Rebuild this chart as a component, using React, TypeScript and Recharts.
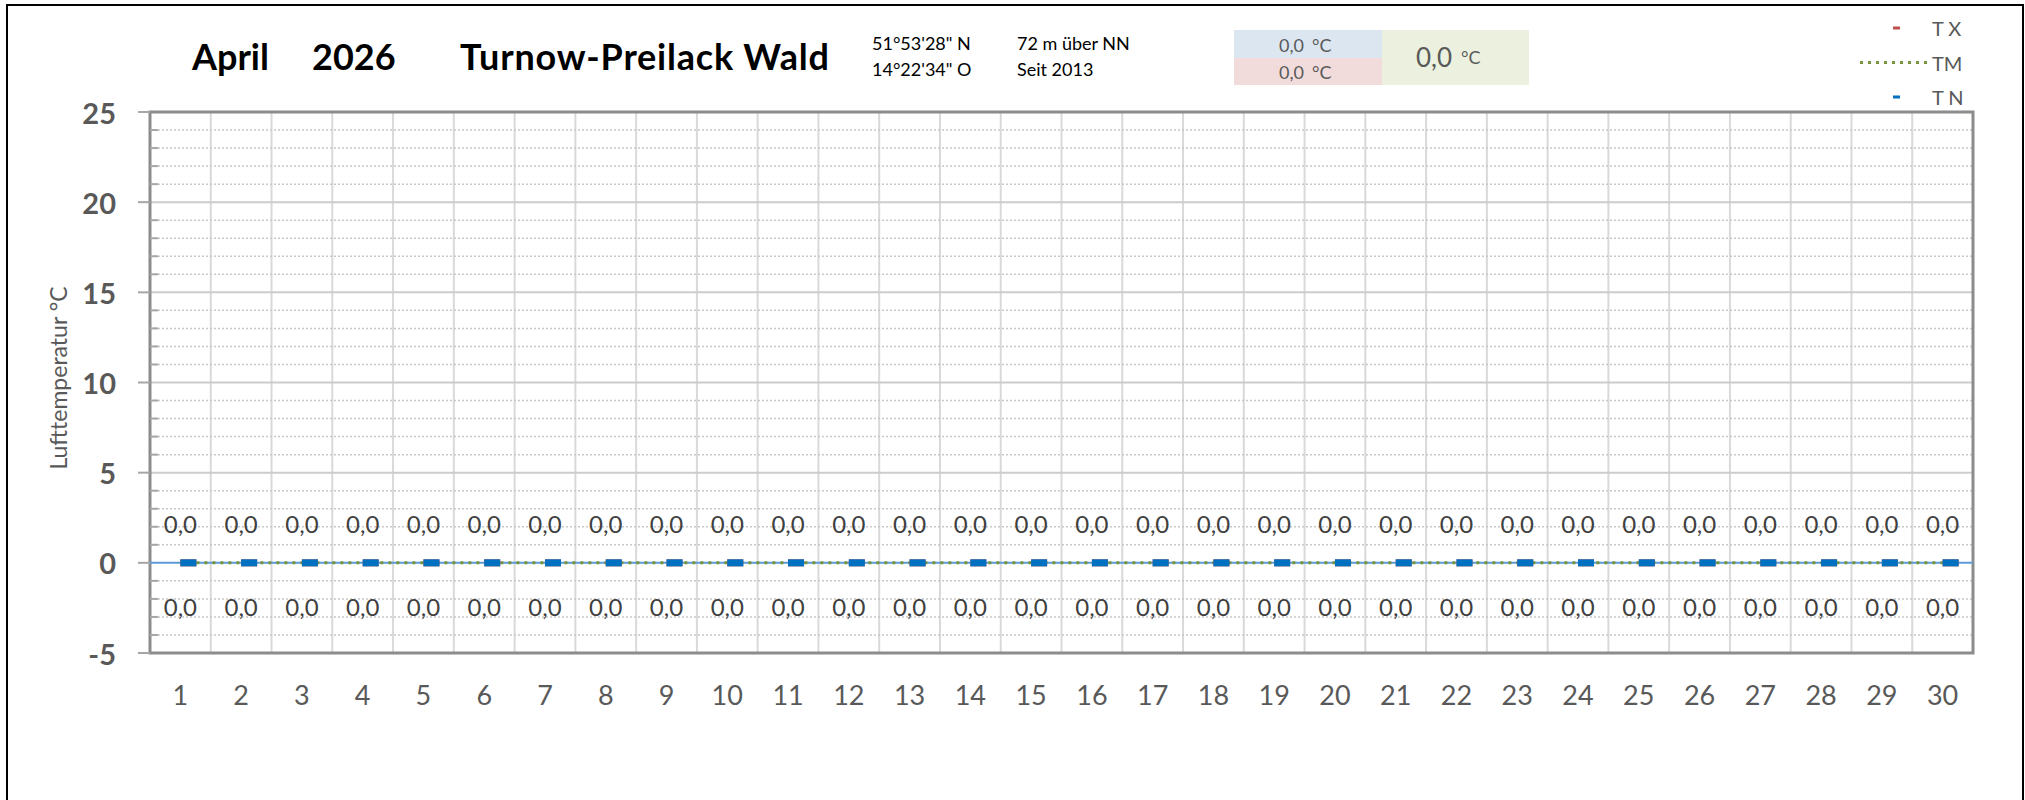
import React from 'react'
import {
  ComposedChart,
  Line,
  Scatter,
  XAxis,
  YAxis,
  CartesianGrid,
  ReferenceLine,
  ReferenceArea,
} from 'recharts'

// Tage im April
const DAYS = [1, 2, 3, 4, 5, 6, 7, 8, 9, 10, 11, 12, 13, 14, 15, 16, 17, 18, 19, 20, 21, 22, 23, 24, 25, 26, 27, 28, 29, 30]
// Tagesmaximum, -mittel, -minimum (°C)
const TX = [0, 0, 0, 0, 0, 0, 0, 0, 0, 0, 0, 0, 0, 0, 0, 0, 0, 0, 0, 0, 0, 0, 0, 0, 0, 0, 0, 0, 0, 0]
const TM = [0, 0, 0, 0, 0, 0, 0, 0, 0, 0, 0, 0, 0, 0, 0, 0, 0, 0, 0, 0, 0, 0, 0, 0, 0, 0, 0, 0, 0, 0]
const TN = [0, 0, 0, 0, 0, 0, 0, 0, 0, 0, 0, 0, 0, 0, 0, 0, 0, 0, 0, 0, 0, 0, 0, 0, 0, 0, 0, 0, 0, 0]

const Y_TICKS = [-5, -4, -3, -2, -1, 0, 1, 2, 3, 4, 5, 6, 7, 8, 9, 10, 11, 12, 13, 14, 15, 16, 17, 18, 19, 20, 21, 22, 23, 24, 25]
const Y_MAJOR_GRID = [5, 10, 15, 20]
const Y_MINOR_GRID = Y_TICKS.filter((v) => v % 5 !== 0)
const X_BOUNDS = DAYS.slice(1).map((d) => d - 0.5)

// Kopfzeile
const TITLE_MONTH = 'April'
const TITLE_YEAR = '2026'
const STATION = 'Turnow-Preilack Wald'
const COORDS = ['51°53\'28" N', '14°22\'34" O']
const STATION_INFO = ['72 m über NN', 'Seit 2013']
const SUMMARY = { tx: 0, tn: 0, tm: 0 }

const LEGEND = [
  { label: 'T X', color: '#C0504D', kind: 'dash' },
  { label: 'TM', color: '#77933C', kind: 'dots' },
  { label: 'T N', color: '#0070C0', kind: 'dash' },
]

const FONT = 'Lato, "Open Sans", sans-serif'
const GREY = '#595959'

const data = DAYS.map((d, i) => ({ day: d, tx: TX[i], tm: TM[i], tn: TN[i] }))

const fmt = (v: number) => v.toFixed(1).replace('.', ',')

const TICK_SIZE = 12
const TICK_MARGIN = 22

function YTick(props: any) {
  const { x, y, payload } = props
  const axisX = x + TICK_SIZE + TICK_MARGIN
  const v = payload.value
  if (v % 5 === 0) {
    return (
      <g>
        <line x1={axisX - TICK_SIZE} x2={axisX} y1={y} y2={y} stroke="#A6A6A6" strokeWidth={2} />
        <text x={x} y={y} textAnchor="end" dominantBaseline="central" fontFamily={FONT} fontWeight={700} fontSize={29} fill={GREY}>
          {v}
        </text>
      </g>
    )
  }
  return <line x1={axisX} x2={axisX + 8} y1={y} y2={y} stroke="#A6A6A6" strokeWidth={2} />
}

function XTick(props: any) {
  const { x, y, payload } = props
  return (
    <text x={x} y={y} textAnchor="middle" dominantBaseline="central" fontFamily={FONT} fontSize={27} fill={GREY}>
      {payload.value}
    </text>
  )
}

const maxShape = (p: any) => (
  <g>
    <rect x={p.cx} y={p.cy - 3.5} width={16} height={7} fill="#C0504D" />
    <text x={p.cx} y={p.cy - 39} textAnchor="middle" dominantBaseline="central" fontFamily={FONT} fontSize={24} fill="#404040">
      {fmt(p.payload.tx)}
    </text>
  </g>
)

const minShape = (p: any) => (
  <g>
    <rect x={p.cx} y={p.cy - 3.5} width={16} height={7} fill="#0070C0" />
    <text x={p.cx} y={p.cy + 44} textAnchor="middle" dominantBaseline="central" fontFamily={FONT} fontSize={24} fill="#404040">
      {fmt(p.payload.tn)}
    </text>
  </g>
)

function Header() {
  return (
    <svg width={2025} height={800} style={{ position: 'absolute', left: 0, top: 0, pointerEvents: 'none' }}>
      <rect x={7} y={5} width={2016} height={810} fill="none" stroke="#000" strokeWidth={2} />

      <g fontFamily={FONT} fontWeight={700} fontSize={36} fill="#000">
        <text x={192} y={70}>{TITLE_MONTH}</text>
        <text x={312} y={70}>{TITLE_YEAR}</text>
        <text x={460} y={70} letterSpacing={0.8}>{STATION}</text>
      </g>

      <g fontFamily={FONT} fontSize={18} fill="#000">
        <text x={872} y={50}>{COORDS[0]}</text>
        <text x={872} y={76}>{COORDS[1]}</text>
        <text x={1017} y={50}>{STATION_INFO[0]}</text>
        <text x={1017} y={76}>{STATION_INFO[1]}</text>
      </g>

      <rect x={1234} y={30} width={148} height={28} fill="#DCE6F1" />
      <rect x={1234} y={58} width={148} height={27} fill="#F2DCDB" />
      <rect x={1382} y={30} width={147} height={55} fill="#EBF1DE" />
      <g fontFamily={FONT} fontSize={18} fill={GREY} dominantBaseline="central">
        <text x={1279} y={45}>
          {fmt(SUMMARY.tx)}
          <tspan dx={8}>°C</tspan>
        </text>
        <text x={1279} y={72}>
          {fmt(SUMMARY.tn)}
          <tspan dx={8}>°C</tspan>
        </text>
      </g>
      <text x={1416} y={57} dominantBaseline="central" fontFamily={FONT} fontSize={26} fill={GREY}>
        {fmt(SUMMARY.tm)}
        <tspan dx={9} fontSize={18}>°C</tspan>
      </text>

      {LEGEND.map((l, i) => {
        const y = 28 + i * 34.5
        return (
          <g key={l.label}>
            {l.kind === 'dash' ? (
              <rect x={1893} y={y - 1.5} width={7} height={3} fill={l.color} />
            ) : (
              <line x1={1860} x2={1928} y1={y} y2={y} stroke={l.color} strokeWidth={3} strokeDasharray="3 5" />
            )}
            <text x={1932} y={y} dominantBaseline="central" fontFamily={FONT} fontSize={20} fill={GREY}>
              {l.label}
            </text>
          </g>
        )
      })}

      <text
        transform="translate(58 378) rotate(-90)"
        textAnchor="middle"
        dominantBaseline="central"
        fontFamily={FONT}
        fontSize={23}
        fill={GREY}
      >
        Lufttemperatur °C
      </text>
    </svg>
  )
}

export default function App() {
  return (
    <div style={{ position: 'absolute', left: 0, top: 0, width: 2025, height: 800, background: '#fff' }}>
      <ComposedChart width={2025} height={800} data={data} margin={{ top: 112, right: 52, bottom: 87, left: 50 }}>
        <CartesianGrid horizontal={false} verticalValues={X_BOUNDS} stroke="#D9D9D9" strokeWidth={2} />
        <CartesianGrid vertical={false} horizontalValues={Y_MINOR_GRID} stroke="#C8C8C8" strokeWidth={1.5} strokeDasharray="2 2" />
        <CartesianGrid vertical={false} horizontalValues={Y_MAJOR_GRID} stroke="#CCCCCC" strokeWidth={2} />
        <XAxis
          dataKey="day"
          type="number"
          domain={[0.5, 30.5]}
          ticks={DAYS}
          interval={0}
          axisLine={false}
          tickLine={false}
          tickSize={0}
          tickMargin={41}
          height={60}
          tick={<XTick />}
        />
        <YAxis
          domain={[-5, 25]}
          ticks={Y_TICKS}
          interval={0}
          width={100}
          axisLine={false}
          tickLine={false}
          tickSize={TICK_SIZE}
          tickMargin={TICK_MARGIN}
          tick={<YTick />}
        />
        <ReferenceArea x1={0.5} x2={30.5} y1={-5} y2={25} fill="none" stroke="#8C8C8C" strokeWidth={3} ifOverflow="visible" />
        <ReferenceLine y={0} stroke="#5B9BD5" strokeWidth={2} />
        <Line
          dataKey="tm"
          type="linear"
          stroke="#77933C"
          strokeWidth={3}
          strokeDasharray="3 5"
          dot={false}
          activeDot={false}
          isAnimationActive={false}
        />
        <Scatter dataKey="tx" shape={maxShape} isAnimationActive={false} />
        <Scatter dataKey="tn" shape={minShape} isAnimationActive={false} />
      </ComposedChart>
      <Header />
    </div>
  )
}
